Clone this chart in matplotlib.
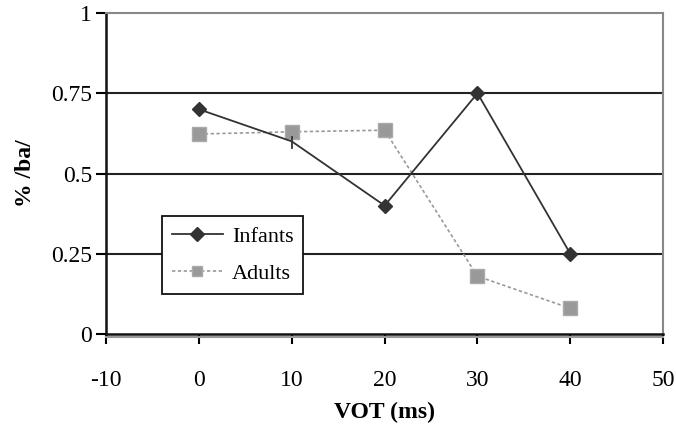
import numpy as np
import matplotlib
matplotlib.use('Agg')
from matplotlib import pyplot as plt

# values
vot = [0, 10, 20, 30, 40]
infants = [0.70, 0.60, 0.40, 0.75, 0.25]
adults = [0.623, 0.630, 0.635, 0.18, 0.08]
xticks = [-10, 0, 10, 20, 30, 40, 50]
yticks = [0, 0.25, 0.5, 0.75, 1]
yticklabels = ['0', '0.25', '0.5', '0.75', '1']

plt.rcParams['font.family'] = ['Liberation Serif', 'DejaVu Serif']

fig = plt.figure(figsize=(6.76, 4.29), dpi=100)
ax = fig.add_axes([0.157, 0.2214, 0.824, 0.7483])

# horizontal grid lines
for yv in yticks[1:-1]:
    ax.axhline(yv, color='#222222', lw=1.5, zorder=1)

ax.plot(vot, adults, color='#999999', ls=(0, (2, 1.5)), lw=1.2,
        marker='s', ms=10, mfc='#999999', mec='#aaaaaa', label='Adults', zorder=3)
ax.plot(vot, infants, color='#333333', lw=1.3, marker='D', ms=7.5,
        mfc='#333333', mec='#333333', markevery=[0, 2, 3, 4], label='Infants', zorder=4)
# the 10 ms infant point shows only as a short tick
ax.plot([vot[1], vot[1]], [infants[1] - 0.02, infants[1] + 0.015], color='#333333', lw=1.3, zorder=4)

ax.set_xlim(-10, 50)
ax.set_ylim(0, 1)
ax.set_xticks(xticks)
ax.set_xticklabels([str(v) for v in xticks], fontsize=17)
ax.set_yticks(yticks)
ax.set_yticklabels(yticklabels, fontsize=17)
ax.tick_params(axis='x', direction='out', length=7, width=1.5, pad=19)
ax.tick_params(axis='y', direction='out', length=7, width=1.5, pad=3)

ax.spines['left'].set_linewidth(1.8)
ax.spines['left'].set_color('#111111')
ax.spines['bottom'].set_linewidth(1.8)
ax.spines['bottom'].set_color('#111111')
ax.spines['top'].set_color('#888888')
ax.spines['top'].set_linewidth(1.5)
ax.spines['right'].set_color('#888888')
ax.spines['right'].set_linewidth(1.5)
# gray double line under the x axis
ax.axhline(-0.008, color='#999999', lw=1.5, clip_on=False, zorder=2)

ax.set_xlabel('VOT (ms)', fontsize=17, fontweight='bold', labelpad=8)
ax.set_ylabel('% /ba/', fontsize=17, fontweight='bold', labelpad=11)

handles, labels = ax.get_legend_handles_labels()
leg = ax.legend(handles[::-1], labels[::-1], loc='lower left', bbox_to_anchor=(0.1, 0.125),
                fontsize=16, fancybox=False, framealpha=1, edgecolor='#111111',
                borderpad=0.45, handlelength=2.3, handletextpad=0.4,
                labelspacing=0.75, borderaxespad=0)
leg.get_frame().set_linewidth(1.3)
for h in leg.legend_handles:
    h.set_markersize(7)

fig.savefig('out.png', dpi=100)
